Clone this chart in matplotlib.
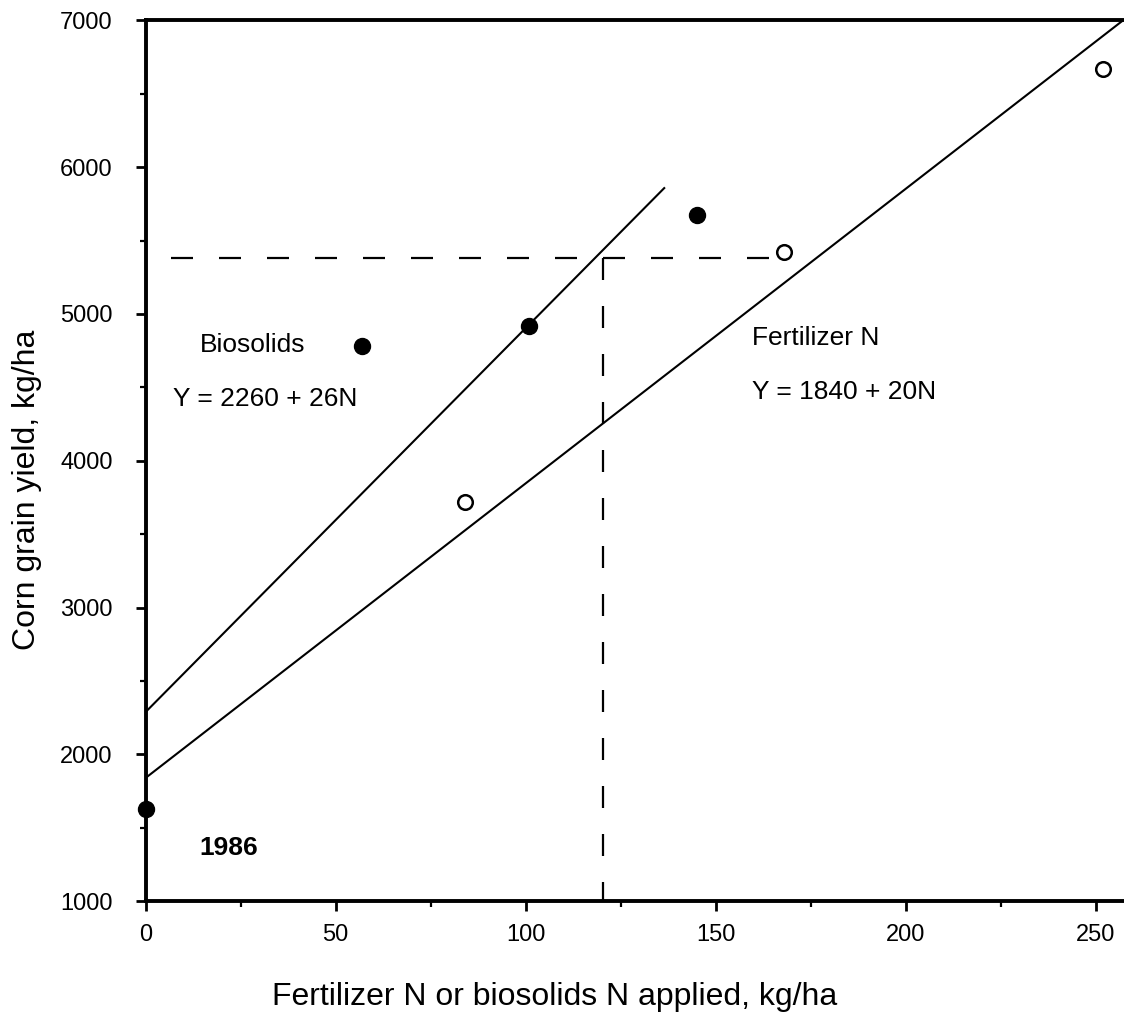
import matplotlib
matplotlib.use("Agg")
import matplotlib.pyplot as plt
from matplotlib.ticker import MultipleLocator

plt.rcParams['font.family'] = ['Liberation Sans', 'DejaVu Sans']

# Data
bio_n = [0, 57, 101, 145]
bio_y = [1630, 4785, 4915, 5675]
fert_n = [84, 168, 252]
fert_y = [3717, 5425, 6672]

bio_line_n = [0, 136.7]
bio_line_y = [2287, 5863]
fert_line_n = [0, 257.2]
fert_line_y = [1838, 7000]

ref_n = 120.5
ref_y = 5380
ref_h_end = 168

xticks = [0, 50, 100, 150, 200, 250]
yticks = [1000, 2000, 3000, 4000, 5000, 6000, 7000]

W, H = 1124, 1013
fig = plt.figure(figsize=(W / 100, H / 100), dpi=100)
x0, x1 = 145.5, 1124
ytop, ybot = 20.5, 901
ax = fig.add_axes([x0 / W, 1 - ybot / H, (x1 - x0) / W, (ybot - ytop) / H])

ax.plot(bio_line_n, bio_line_y, color='black', lw=1.5, solid_capstyle='butt')
ax.plot(fert_line_n, fert_line_y, color='black', lw=1.5, solid_capstyle='butt', clip_on=False)

lw_d = 1.6
ax.plot([0, ref_h_end], [ref_y, ref_y], color='black', lw=lw_d,
        linestyle=(10.35, (9.9, 11.7)), dash_capstyle='butt')
ax.plot([ref_n, ref_n], [ref_y, 1000], color='black', lw=lw_d,
        linestyle=(0, (9.9, 11.7)), dash_capstyle='butt')

ax.plot(bio_n, bio_y, 'o', color='black', ms=11.5, mew=1, clip_on=False, zorder=5)
ax.plot(fert_n, fert_y, 'o', mfc='white', mec='black', mew=1.8, ms=10.5, clip_on=False, zorder=5)

ax.text(14.3, 4787, 'Biosolids', fontsize=19, ha='left', va='center')
ax.text(7.2, 4419, 'Y = 2260 + 26N', fontsize=19, ha='left', va='center')
ax.text(159.6, 4834, 'Fertilizer N', fontsize=19, ha='left', va='center')
ax.text(159.6, 4466, 'Y = 1840 + 20N', fontsize=19, ha='left', va='center')
ax.text(14.3, 1361, '1986', fontsize=19, fontweight='bold', ha='left', va='center')

ax.set_xlim(0, (x1 - x0) / 3.8)
ax.set_ylim(1000, 7000)
ax.set_xticks(xticks)
ax.set_yticks(yticks)
ax.xaxis.set_minor_locator(MultipleLocator(25))
ax.yaxis.set_minor_locator(MultipleLocator(500))

ax.spines['right'].set_visible(False)
for s in ['left', 'bottom', 'top']:
    ax.spines[s].set_linewidth(2.8)

ax.tick_params(which='major', direction='out', length=7.5, width=2, labelsize=17, top=False, right=False)
ax.tick_params(which='minor', direction='out', length=4, width=1.6, top=False, right=False)
ax.tick_params(axis='y', which='major', pad=16)
ax.tick_params(axis='x', which='major', pad=9)

fig.text(272 / W, 1 - 1005 / H, 'Fertilizer N or biosolids N applied, kg/ha',
         fontsize=23, ha='left', va='baseline')
fig.text(27 / W, 1 - 490 / H, 'Corn grain yield, kg/ha',
         fontsize=23, ha='center', va='center', rotation=90)

fig.savefig('out.png', dpi=100)
